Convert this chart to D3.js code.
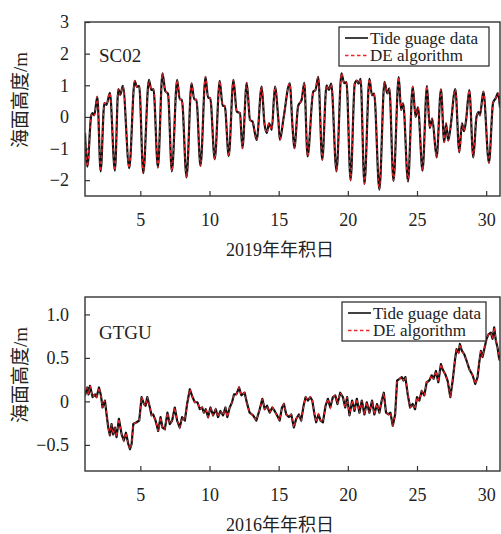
<!DOCTYPE html>
<html>
<head>
<meta charset="utf-8">
<script src="https://cdn.jsdelivr.net/npm/d3@7"></script>
<style>
    body { margin: 0; background: #fff; }
    svg text { font-family: "Liberation Serif", "Times New Roman", "Noto Sans CJK SC", serif; fill: #222; }
</style>
</head>
<body>
<div id="chart"></div>
<script>

// ---- data ----
const dayTicks = [5, 10, 15, 20, 25, 30];
const legendLabels = ["Tide guage data", "DE algorithm"];
const yTitle = "海面高度/m";

// SC02, 2019
const sc02Days = [
    1.00, 1.17, 1.45, 1.55, 1.67, 1.89, 2.13, 2.40, 2.55, 2.80,
    3.16, 3.41, 3.55, 3.74, 4.20, 4.59, 4.75, 4.92, 5.21, 5.62,
    5.80, 5.95, 6.27, 6.60, 6.80, 7.00, 7.28, 7.66, 7.85, 8.00,
    8.34, 8.70, 8.90, 9.05, 9.35, 9.71, 9.90, 10.05, 10.38, 10.74,
    10.95, 11.10, 11.39, 11.73, 11.97, 12.20, 12.38, 12.69, 12.93, 13.10,
    13.41, 13.77, 13.97, 14.14, 14.30, 14.50, 14.73, 14.97, 15.09, 15.35,
    15.80, 16.00, 16.13, 16.41, 16.66, 16.85, 17.09, 17.50, 17.66, 17.86,
    18.15, 18.46, 18.63, 18.80, 19.18, 19.54, 19.73, 19.90, 20.20, 20.50,
    20.65, 20.78, 20.92, 21.20, 21.56, 21.75, 21.90, 22.28, 22.65, 22.85,
    23.00, 23.30, 23.68, 23.85, 24.00, 24.35, 24.69, 24.90, 25.07, 25.40,
    25.72, 25.92, 26.10, 26.42, 26.73, 26.97, 27.10, 27.25, 27.40, 27.77,
    28.06, 28.25, 28.40, 28.55, 28.78, 29.07, 29.30, 29.45, 29.55, 29.80,
    30.20, 30.50, 30.70, 30.85, 31.00
];
const sc02Tide = [
    -0.50, -1.57, 0.05, 0.12, 0.05, 0.64, -1.72, 0.44, 0.38, 0.76,
    -1.70, 0.88, 0.70, 0.98, -1.62, 1.14, 0.95, 0.98, -1.78, 1.17,
    0.85, 0.88, -1.60, 1.38, 0.82, 0.73, -1.72, 1.17, 0.55, 0.55,
    -1.91, 1.06, 0.55, 0.55, -1.55, 1.27, 0.60, 0.60, -1.34, 1.14,
    0.35, 0.35, -1.24, 1.17, 0.17, 0.12, -0.99, 1.08, -0.10, -0.14,
    -0.73, 0.96, -0.20, -0.51, -0.20, -0.41, 0.96, -0.04, -0.73, -0.05,
    1.06, -0.30, -0.99, 0.35, 0.54, 1.08, -1.25, 0.80, 0.85, 1.27,
    -1.36, 1.00, 0.85, 1.05, -1.72, 1.38, 1.07, 1.10, -2.00, 1.05,
    1.15, 1.05, 1.20, -2.12, 1.20, 0.68, 0.74, -2.30, 1.11, 0.74,
    0.90, -2.02, 1.26, 0.22, 0.43, -2.04, 0.96, 0.00, 0.30, -1.70,
    0.98, -0.35, -0.05, -1.28, 0.87, -0.80, -0.20, -0.75, -0.40, 0.88,
    -1.12, -0.20, -0.45, -0.10, 0.85, -1.28, 0.00, 0.15, 0.05, 0.80,
    -1.45, 0.45, 0.60, 0.75, 0.30
];
// DE retrieval sits on top of the gauge curve everywhere
const sc02DE = [
    -0.50, -1.57, 0.05, 0.12, 0.05, 0.64, -1.72, 0.44, 0.38, 0.76,
    -1.70, 0.88, 0.70, 0.98, -1.62, 1.14, 0.95, 0.98, -1.78, 1.17,
    0.85, 0.88, -1.60, 1.38, 0.82, 0.73, -1.72, 1.17, 0.55, 0.55,
    -1.91, 1.06, 0.55, 0.55, -1.55, 1.27, 0.60, 0.60, -1.34, 1.14,
    0.35, 0.35, -1.24, 1.17, 0.17, 0.12, -0.99, 1.08, -0.10, -0.14,
    -0.73, 0.96, -0.20, -0.51, -0.20, -0.41, 0.96, -0.04, -0.73, -0.05,
    1.06, -0.30, -0.99, 0.35, 0.54, 1.08, -1.25, 0.80, 0.85, 1.27,
    -1.36, 1.00, 0.85, 1.05, -1.72, 1.38, 1.07, 1.10, -2.00, 1.05,
    1.15, 1.05, 1.20, -2.12, 1.20, 0.68, 0.74, -2.30, 1.11, 0.74,
    0.90, -2.02, 1.26, 0.22, 0.43, -2.04, 0.96, 0.00, 0.30, -1.70,
    0.98, -0.35, -0.05, -1.28, 0.87, -0.80, -0.20, -0.75, -0.40, 0.88,
    -1.12, -0.20, -0.45, -0.10, 0.85, -1.28, 0.00, 0.15, 0.05, 0.80,
    -1.45, 0.45, 0.60, 0.75, 0.30
];
const sc02YTicks = [-2, -1, 0, 1, 2, 3];
const sc02YTickLabels = ["−2", "−1", "0", "1", "2", "3"];

// GTGU, 2016
const gtguDays = [
    1.00, 1.17, 1.26, 1.36, 1.55, 1.72, 1.84, 2.01, 2.15, 2.27,
    2.44, 2.56, 2.68, 2.80, 2.92, 3.04, 3.16, 3.28, 3.45, 3.65,
    3.81, 3.96, 4.13, 4.25, 4.37, 4.49, 4.73, 4.92, 5.09, 5.26,
    5.38, 5.50, 5.69, 5.81, 5.93, 6.10, 6.29, 6.46, 6.60, 6.77,
    6.96, 7.13, 7.30, 7.49, 7.66, 7.85, 8.02, 8.22, 8.38, 8.58,
    8.77, 8.94, 9.13, 9.30, 9.47, 9.59, 9.73, 9.90, 10.07, 10.26,
    10.45, 10.62, 10.79, 10.98, 11.15, 11.29, 11.46, 11.63, 11.77, 11.94,
    12.14, 12.30, 12.54, 12.71, 12.90, 13.15, 13.39, 13.63, 13.82, 13.99,
    14.16, 14.35, 14.54, 14.71, 14.88, 15.07, 15.24, 15.38, 15.55, 15.74,
    15.91, 16.10, 16.27, 16.46, 16.63, 16.80, 16.95, 17.11, 17.28, 17.43,
    17.59, 17.71, 17.88, 18.03, 18.20, 18.39, 18.56, 18.73, 18.92, 19.09,
    19.25, 19.45, 19.64, 19.81, 19.95, 20.12, 20.31, 20.48, 20.65, 20.84,
    21.01, 21.20, 21.37, 21.56, 21.75, 21.92, 22.11, 22.28, 22.45, 22.60,
    22.76, 22.93, 23.08, 23.25, 23.42, 23.56, 23.73, 23.90, 24.02, 24.16,
    24.33, 24.50, 24.69, 24.86, 25.00, 25.17, 25.34, 25.53, 25.70, 25.89,
    26.06, 26.20, 26.37, 26.54, 26.73, 26.85, 27.05, 27.21, 27.41, 27.58,
    27.74, 27.86, 28.01, 28.10, 28.25, 28.42, 28.58, 28.78, 29.02, 29.21,
    29.38, 29.50, 29.62, 29.74, 29.86, 30.03, 30.17, 30.34, 30.46, 30.58,
    30.70, 30.82, 30.94, 31.00
];
const gtguTide = [
    0.07, 0.16, 0.08, 0.18, 0.05, 0.08, 0.05, 0.16, 0.07, -0.07,
    0.01, -0.15, -0.30, -0.39, -0.26, -0.38, -0.30, -0.41, -0.20, -0.38,
    -0.45, -0.36, -0.49, -0.55, -0.49, -0.26, -0.24, -0.22, 0.05, -0.03,
    -0.05, 0.05, -0.07, -0.16, -0.15, -0.22, -0.34, -0.18, -0.30, -0.32,
    -0.13, -0.26, -0.22, -0.07, -0.22, -0.30, -0.18, -0.22, -0.03, 0.14,
    0.05, -0.01, -0.01, -0.09, -0.07, -0.13, -0.09, -0.18, -0.07, -0.16,
    -0.09, -0.18, -0.11, -0.16, -0.07, -0.18, -0.07, -0.01, 0.08, 0.08,
    0.16, 0.07, 0.10, -0.02, -0.13, -0.16, -0.22, -0.09, 0.03, -0.09,
    -0.05, -0.13, -0.07, -0.11, -0.16, -0.22, -0.07, -0.03, -0.15, -0.18,
    -0.15, -0.30, -0.20, -0.15, -0.22, -0.05, 0.05, 0.01, 0.05, 0.01,
    -0.15, -0.24, -0.15, -0.22, -0.24, -0.05, 0.03, -0.07, 0.05, 0.07,
    -0.03, 0.10, 0.05, -0.07, 0.05, -0.16, 0.01, -0.11, 0.03, -0.13,
    0.01, -0.15, -0.01, -0.13, 0.01, -0.15, -0.03, -0.13, 0.01, 0.10,
    -0.13, -0.15, -0.13, -0.28, -0.15, 0.24, 0.26, 0.28, 0.24, 0.28,
    0.08, -0.07, -0.03, -0.09, 0.05, 0.01, 0.12, 0.07, 0.22, 0.24,
    0.30, 0.26, 0.35, 0.22, 0.43, 0.37, 0.31, 0.24, 0.05, 0.24,
    0.47, 0.60, 0.56, 0.66, 0.58, 0.54, 0.47, 0.37, 0.30, 0.20,
    0.28, 0.45, 0.58, 0.51, 0.60, 0.72, 0.77, 0.79, 0.72, 0.85,
    0.70, 0.62, 0.49, 0.47
];
const gtguDE = [
    0.07, 0.16, 0.08, 0.18, 0.05, 0.08, 0.05, 0.16, 0.07, -0.07,
    0.01, -0.15, -0.30, -0.39, -0.26, -0.38, -0.30, -0.41, -0.20, -0.38,
    -0.45, -0.36, -0.49, -0.55, -0.49, -0.26, -0.24, -0.22, 0.05, -0.03,
    -0.05, 0.05, -0.07, -0.16, -0.15, -0.22, -0.34, -0.18, -0.30, -0.32,
    -0.13, -0.26, -0.22, -0.07, -0.22, -0.30, -0.18, -0.22, -0.03, 0.14,
    0.05, -0.01, -0.01, -0.09, -0.07, -0.13, -0.09, -0.18, -0.07, -0.16,
    -0.09, -0.18, -0.11, -0.16, -0.07, -0.18, -0.07, -0.01, 0.08, 0.08,
    0.16, 0.07, 0.10, -0.02, -0.13, -0.16, -0.22, -0.09, 0.03, -0.09,
    -0.05, -0.13, -0.07, -0.11, -0.16, -0.22, -0.07, -0.03, -0.15, -0.18,
    -0.15, -0.30, -0.20, -0.15, -0.22, -0.05, 0.05, 0.01, 0.05, 0.01,
    -0.15, -0.24, -0.15, -0.22, -0.24, -0.05, 0.03, -0.07, 0.05, 0.07,
    -0.03, 0.10, 0.05, -0.07, 0.05, -0.16, 0.01, -0.11, 0.03, -0.13,
    0.01, -0.15, -0.01, -0.13, 0.01, -0.15, -0.03, -0.13, 0.01, 0.10,
    -0.13, -0.15, -0.13, -0.28, -0.15, 0.24, 0.26, 0.28, 0.24, 0.28,
    0.08, -0.07, -0.03, -0.09, 0.05, 0.01, 0.12, 0.07, 0.22, 0.24,
    0.30, 0.26, 0.35, 0.22, 0.43, 0.37, 0.31, 0.24, 0.05, 0.24,
    0.47, 0.60, 0.56, 0.66, 0.58, 0.54, 0.47, 0.37, 0.30, 0.20,
    0.28, 0.45, 0.58, 0.51, 0.60, 0.72, 0.77, 0.79, 0.72, 0.85,
    0.70, 0.62, 0.49, 0.47
];
const gtguYTicks = [-0.5, 0, 0.5, 1.0];
const gtguYTickLabels = ["−0.5", "0", "0.5", "1.0"];


/*
 * TidePanelVis - one framed panel with gauge + DE curves
 */
class TidePanelVis {

    constructor(_svg, _config) {
        this.svg = _svg;
        this.config = _config;
        this.initVis();
    }

    initVis() {
        let vis = this;

        vis.margin = {top: vis.config.top, left: 85};
        vis.width = 415;
        vis.height = 174;

        vis.g = vis.svg.append("g")
            .attr("transform", "translate(" + vis.margin.left + "," + vis.margin.top + ")");

        vis.x = d3.scaleLinear().domain([1, 31]).range([0, vis.width]);
        vis.y = d3.scaleLinear().domain(vis.config.yDomain).range([vis.height, 0]);

        // inward ticks, like the matlab figure
        vis.xAxis = d3.axisBottom(vis.x)
            .tickValues(dayTicks)
            .tickSize(-5)
            .tickPadding(17);
        vis.yAxis = d3.axisLeft(vis.y)
            .tickValues(vis.config.yTicks)
            .tickFormat((d, i) => vis.config.yTickLabels[i])
            .tickSize(-5)
            .tickPadding(16);

        vis.g.append("clipPath")
            .attr("id", "clip-" + vis.config.id)
            .append("rect")
            .attr("width", vis.width)
            .attr("height", vis.height);

        vis.lineGroup = vis.g.append("g")
            .attr("clip-path", "url(#clip-" + vis.config.id + ")");

        vis.xAxisGroup = vis.g.append("g")
            .attr("transform", "translate(0," + vis.height + ")");
        vis.yAxisGroup = vis.g.append("g");

        vis.wrangleData();
    }

    wrangleData() {
        let vis = this;
        let n = Math.min(vis.config.days.length, vis.config.tide.length, vis.config.de.length);

        vis.tideData = [];
        vis.deData = [];
        for (let i = 0; i < n; i++) {
            vis.tideData.push({day: vis.config.days[i], value: vis.config.tide[i]});
            vis.deData.push({day: vis.config.days[i], value: vis.config.de[i]});
        }

        vis.updateVis();
    }

    updateVis() {
        let vis = this;

        let line = d3.line()
            .x(d => vis.x(d.day))
            .y(d => vis.y(d.value))
            .curve(vis.config.curve);

        vis.lineGroup.append("path")
            .datum(vis.tideData)
            .attr("d", line)
            .attr("fill", "none")
            .attr("stroke", "#111")
            .attr("stroke-width", 2.2)
            .attr("stroke-linejoin", "round");

        vis.lineGroup.append("path")
            .datum(vis.deData)
            .attr("d", line)
            .attr("fill", "none")
            .attr("stroke", "#e8262b")
            .attr("stroke-width", 1.3)
            .attr("stroke-dasharray", "3,3");

        // axes
        vis.xAxisGroup.call(vis.xAxis);
        vis.yAxisGroup.call(vis.yAxis);
        vis.g.selectAll(".domain").remove();
        vis.g.selectAll(".tick line").attr("stroke", "#333").attr("stroke-width", 1.2);
        vis.g.selectAll(".tick text")
            .style("font-size", "18px")
            .attr("fill", "#222");

        // frame
        vis.g.append("rect")
            .attr("width", vis.width)
            .attr("height", vis.height)
            .attr("fill", "none")
            .attr("stroke", "#333")
            .attr("stroke-width", 1.4);

        // station name
        vis.g.append("text")
            .attr("x", 14)
            .attr("y", vis.config.nameY)
            .style("font-size", "19px")
            .text(vis.config.name);

        // legend
        let lg = vis.g.append("g")
            .attr("transform", "translate(" + vis.config.legend.x + "," + vis.config.legend.y + ")");
        lg.append("rect")
            .attr("width", vis.config.legend.w)
            .attr("height", 39)
            .attr("fill", "#fff")
            .attr("stroke", "#222")
            .attr("stroke-width", 1.2);

        legendLabels.forEach((lab, i) => {
            let yy = 11 + i * 17.5;
            lg.append("line")
                .attr("x1", 6).attr("x2", 29)
                .attr("y1", yy).attr("y2", yy)
                .attr("stroke", i === 0 ? "#111" : "#e8262b")
                .attr("stroke-width", i === 0 ? 1.6 : 1.4)
                .attr("stroke-dasharray", i === 0 ? null : "3.5,2.5");
            lg.append("text")
                .attr("x", 31)
                .attr("y", yy + 5.5)
                .style("font-size", "17px")
                .text(lab);
        });

        // axis titles
        vis.svg.append("text")
            .attr("x", 280)
            .attr("y", vis.margin.top + vis.height + 60)
            .attr("text-anchor", "middle")
            .style("font-size", "18px")
            .text(vis.config.xTitle);

        vis.svg.append("text")
            .attr("transform", "translate(27," + (vis.margin.top + vis.height / 2 - 9) + ") rotate(-90)")
            .attr("text-anchor", "middle")
            .style("font-size", "19px")
            .text(yTitle);
    }
}

let svg = d3.select("#chart").append("svg")
    .attr("width", 501)
    .attr("height", 534);

new TidePanelVis(svg, {
    id: "sc02", top: 22, name: "SC02", nameY: 40,
    days: sc02Days, tide: sc02Tide, de: sc02DE,
    yDomain: [-2.5, 3], yTicks: sc02YTicks, yTickLabels: sc02YTickLabels,
    xTitle: "2019年年积日", curve: d3.curveMonotoneX,
    legend: {x: 254, y: 5, w: 150}
});

new TidePanelVis(svg, {
    id: "gtgu", top: 297, name: "GTGU", nameY: 42,
    days: gtguDays, tide: gtguTide, de: gtguDE,
    yDomain: [-0.8, 1.2], yTicks: gtguYTicks, yTickLabels: gtguYTickLabels,
    xTitle: "2016年年积日", curve: d3.curveLinear,
    legend: {x: 257, y: 5, w: 144}
});

</script>
</body>
</html>
